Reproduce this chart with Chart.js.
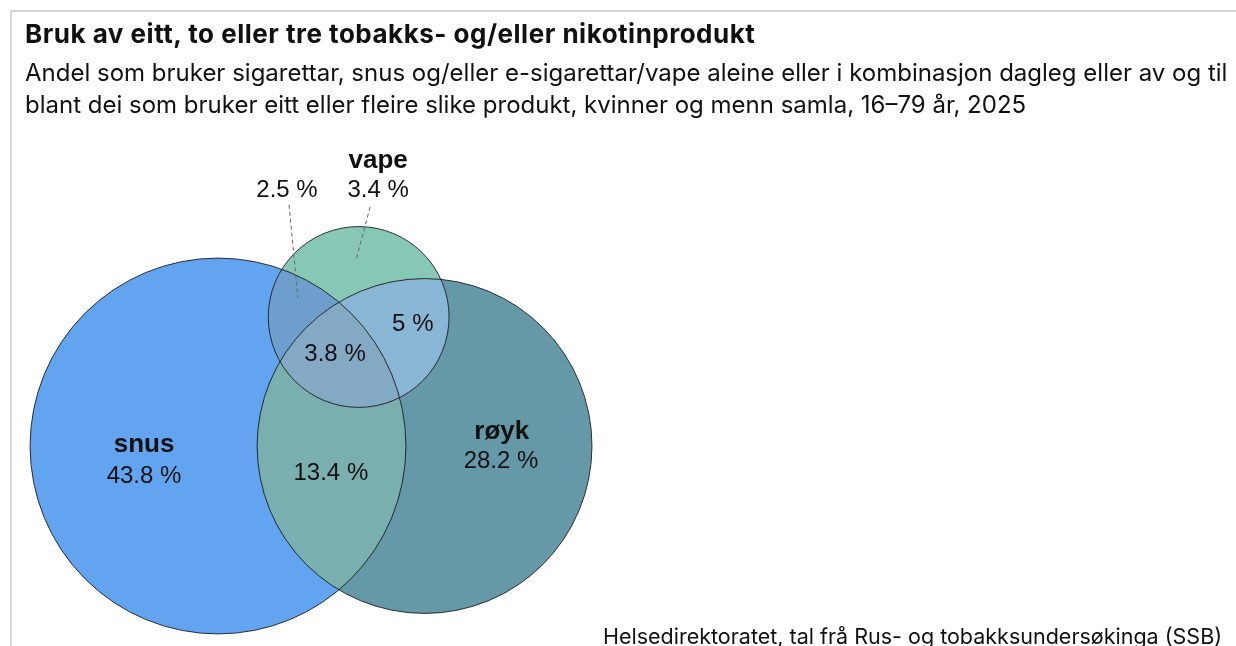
<!DOCTYPE html>
<html lang="nn">
<head>
<meta charset="utf-8">
<title>Bruk av eitt, to eller tre tobakks- og/eller nikotinprodukt</title>
<script src="https://cdn.jsdelivr.net/npm/chart.js@4.4.1/dist/chart.umd.min.js"></script>
<style>
  html, body { margin: 0; padding: 0; background: #fff; }
  body { width: 1236px; height: 646px; position: relative; overflow: hidden; font-family: Inter, "Noto Sans", sans-serif; color: #111; }
  #venn { position: absolute; left: 0; top: 0; z-index: 0; }
  .frame-top { position: absolute; left: 10px; right: 0; top: 10px; height: 2px; background: #d6d6d6; }
  .frame-left { position: absolute; left: 10px; top: 10px; bottom: 0; width: 2px; background: #d6d6d6; }
  #title { position: absolute; left: 25px; top: 18px; font-size: 26px; font-weight: 700; letter-spacing: 0.5px; white-space: nowrap; z-index: 1; }
  #subtitle { position: absolute; left: 25px; top: 57px; font-size: 24px; line-height: 32px; white-space: nowrap; z-index: 1; }
  #source { position: absolute; left: 603px; top: 623px; font-size: 21.5px; white-space: nowrap; z-index: 1; }
</style>
</head>
<body>
<div class="frame-top"></div>
<div class="frame-left"></div>
<div id="title">Bruk av eitt, to eller tre tobakks- og/eller nikotinprodukt</div>
<div id="subtitle">Andel som bruker sigarettar, snus og/eller e-sigarettar/vape aleine eller i kombinasjon dagleg eller av og til<br>blant dei som bruker eitt eller fleire slike produkt, kvinner og menn samla, 16–79 år, 2025</div>
<canvas id="venn" width="1236" height="646"></canvas>
<div id="source">Helsedirektoratet, tal frå Rus- og tobakksundersøkinga (SSB)</div>

<script>
// Data: prosent per område i diagrammet
const sets = ["snus", "røyk", "vape"];
const onlyValues = [43.8, 28.2, 3.4];          // berre eitt produkt
const pairSets = [[0, 1], [0, 2], [1, 2]];     // snus+røyk, snus+vape, røyk+vape
const pairValues = [13.4, 2.5, 5];             // berre to produkt
const allThreeValue = 3.8;                     // alle tre

// Farger
const setColors = ["#63A4F1", "#6699A7", "#86C7B5"];
const pairColors = ["#7AAFB0", "#6E9ECB", "#8AB6D6"];
const allThreeColor = "#84A9C4";

// Plassering av tekst (i same einingar som sirklane)
const labelPos = {
  names: [[-1.77, 0.02], [6.79, 0.33], [3.83, 6.82]],
  only: [[-1.77, -0.72], [6.77, -0.36], [3.83, 6.12]],
  pairs: [[2.70, -0.65], [1.65, 6.12], [4.66, 2.92]],
  all: [2.80, 2.20],
};
const leaders = [
  [[1.70, 5.77], [1.91, 3.54]],   // 2.5 %
  [[3.64, 5.72], [3.30, 4.45]],   // 3.4 %
];

// ---- Venn-oppsett: areal proporsjonalt med verdiane ----
function lensArea(r1, r2, d) {
  if (d >= r1 + r2) return 0;
  if (d <= Math.abs(r1 - r2)) return Math.PI * Math.min(r1, r2) ** 2;
  const a = r1 * r1 * Math.acos((d * d + r1 * r1 - r2 * r2) / (2 * d * r1));
  const b = r2 * r2 * Math.acos((d * d + r2 * r2 - r1 * r1) / (2 * d * r2));
  const c = 0.5 * Math.sqrt((-d + r1 + r2) * (d + r1 - r2) * (d - r1 + r2) * (d + r1 + r2));
  return a + b - c;
}

function distanceFor(r1, r2, area) {
  let lo = Math.abs(r1 - r2), hi = r1 + r2;
  for (let i = 0; i < 80; i++) {
    const mid = (lo + hi) / 2;
    if (lensArea(r1, r2, mid) > area) lo = mid;
    else hi = mid;
  }
  return (lo + hi) / 2;
}

const totals = onlyValues.map((v, i) => {
  let t = v + allThreeValue;
  pairSets.forEach((p, k) => { if (p.includes(i)) t += pairValues[k]; });
  return t;
});
const radii = totals.map((t) => Math.sqrt(t / Math.PI));
const pairArea = pairValues.map((v) => v + allThreeValue);

const dSR = distanceFor(radii[0], radii[1], pairArea[0]);
const dSV = distanceFor(radii[0], radii[2], pairArea[1]);
const dRV = distanceFor(radii[1], radii[2], pairArea[2]);
const vx = (dSR * dSR + dSV * dSV - dRV * dRV) / (2 * dSR);
const vy = Math.sqrt(Math.max(0, dSV * dSV - vx * vx));

const circles = [
  { x: 0, y: 0, r: radii[0] },
  { x: dSR, y: 0, r: radii[1] },
  { x: vx, y: vy, r: radii[2] },
];

// Skala: same pikslar per eining på begge aksar
const W = 1236, H = 646, unitPx = 41.8;
const xMin = -218 / unitPx, xMax = xMin + W / unitPx;
const yMax = 446 / unitPx, yMin = yMax - H / unitPx;

function fmt(v) {
  return v.toString() + " %";
}

const vennPlugin = {
  id: "venn",
  beforeDatasetsDraw(chart) {
    const { ctx, scales: { x, y } } = chart;
    const px = circles.map((c) => ({
      cx: x.getPixelForValue(c.x),
      cy: y.getPixelForValue(c.y),
      r: x.getPixelForValue(c.x + c.r) - x.getPixelForValue(c.x),
    }));
    const path = (c) => {
      ctx.beginPath();
      ctx.arc(c.cx, c.cy, c.r, 0, Math.PI * 2);
    };

    ctx.save();
    // eitt produkt
    px.forEach((c, i) => { path(c); ctx.fillStyle = setColors[i]; ctx.fill(); });
    // to produkt
    pairSets.forEach(([a, b], k) => {
      ctx.save();
      path(px[a]); ctx.clip();
      path(px[b]); ctx.fillStyle = pairColors[k]; ctx.fill();
      ctx.restore();
    });
    // alle tre
    ctx.save();
    path(px[0]); ctx.clip();
    path(px[1]); ctx.clip();
    path(px[2]); ctx.fillStyle = allThreeColor; ctx.fill();
    ctx.restore();
    // kantar
    ctx.strokeStyle = "rgba(20,20,20,0.85)";
    ctx.lineWidth = 1;
    px.forEach((c) => { path(c); ctx.stroke(); });
    ctx.restore();
  },
  afterDatasetsDraw(chart) {
    const { ctx, scales: { x, y } } = chart;
    const P = (p) => [x.getPixelForValue(p[0]), y.getPixelForValue(p[1])];
    ctx.save();

    // leiarlinjer
    ctx.strokeStyle = "#666";
    ctx.lineWidth = 1;
    ctx.setLineDash([4, 3]);
    leaders.forEach(([a, b]) => {
      const [x1, y1] = P(a), [x2, y2] = P(b);
      ctx.beginPath(); ctx.moveTo(x1, y1); ctx.lineTo(x2, y2); ctx.stroke();
    });
    ctx.setLineDash([]);

    ctx.textAlign = "center";
    ctx.textBaseline = "middle";
    ctx.fillStyle = "#111";
    ctx.font = "bold 26px 'Liberation Sans', Arial, sans-serif";
    sets.forEach((s, i) => { const [tx, ty] = P(labelPos.names[i]); ctx.fillText(s, tx, ty); });

    ctx.font = "24px 'Liberation Sans', Arial, sans-serif";
    onlyValues.forEach((v, i) => { const [tx, ty] = P(labelPos.only[i]); ctx.fillText(fmt(v), tx, ty); });
    pairValues.forEach((v, i) => { const [tx, ty] = P(labelPos.pairs[i]); ctx.fillText(fmt(v), tx, ty); });
    const [ax, ay] = P(labelPos.all);
    ctx.fillText(fmt(allThreeValue), ax, ay);
    ctx.restore();
  },
};

new Chart(document.getElementById("venn"), {
  type: "scatter",
  data: {
    datasets: [{
      label: "sirklar",
      data: circles.map((c) => ({ x: c.x, y: c.y })),
      pointRadius: 0,
      pointHoverRadius: 0,
    }],
  },
  options: {
    responsive: false,
    animation: false,
    layout: { padding: 0 },
    events: [],
    plugins: { legend: { display: false }, tooltip: { enabled: false }, title: { display: false } },
    scales: {
      x: { type: "linear", display: false, min: xMin, max: xMax },
      y: { type: "linear", display: false, min: yMin, max: yMax },
    },
  },
  plugins: [vennPlugin],
});
</script>
</body>
</html>
